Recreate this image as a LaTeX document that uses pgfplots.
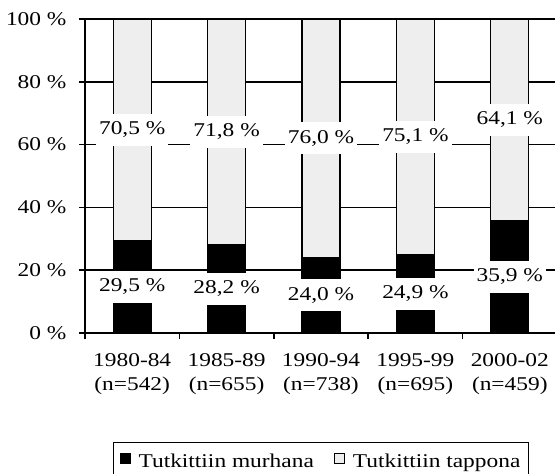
\documentclass[border=0pt]{standalone}
\usepackage{pgfplots}
\usepackage{pgfplotstable}
\pgfplotsset{compat=1.18}
\usepackage{fontspec}
\setmainfont{Liberation Serif}[FakeStretch=1.2]
\newcommand\cf{\fontsize{19.5}{24}\selectfont}
\definecolor{lightgr}{HTML}{EEEEEE}
\pgfplotstableread{
x m t
0 29.5 70.5
1 28.2 71.8
2 24.0 76.0
3 24.9 75.1
4 35.9 64.1
}\data
\begin{document}
\begin{tikzpicture}
\path[use as bounding box] (-85pt,-141pt) rectangle (470pt,333pt);
\pgfplotsset{common/.style={
  scale only axis, width=472pt, height=314pt,
  xmin=-0.5, xmax=4.5, ymin=0, ymax=100,
  at={(0pt,0pt)}, anchor=south west, clip=false}}
\begin{axis}[common,
  ybar stacked, bar width=38pt,
  axis x line=bottom, axis y line=left,
  axis line style={-, line width=1.5pt},
  tick align=outside, major tick length=6pt,
  every tick/.style={black, line width=1.5pt},
  ytick={0,20,40,60,80,100},
  yticklabels={0 \%,20 \%,40 \%,60 \%,80 \%,100 \%},
  ymajorgrids, grid style={black, line width=1.5pt},
  xtick={-0.5,0.5,1.5,2.5,3.5,4.5}, xticklabels={},
  extra x ticks={0,1,2,3,4},
  extra x tick labels={{1980-84\\(n=542)},{1985-89\\(n=655)},{1990-94\\(n=738)},{1995-99\\(n=695)},{2000-02\\(n=459)}},
  extra x tick style={major tick length=0pt},
  tick label style={font=\cf},
  xticklabel style={align=center, yshift=-17pt},
  yticklabel style={xshift=-9pt},
  legend style={at={(0.5,-0.347)}, anchor=north, draw=black, line width=1pt,
    font=\cf, inner xsep=6pt, inner ysep=10pt,
    /tikz/every even column/.append style={column sep=18pt},
    /tikz/every odd column/.append style={column sep=6pt}},
  legend columns=2,
]
\addplot[fill=black, draw=black, line width=1.2pt,
  legend image code/.code={\draw[fill=black,draw=black,line width=1pt] (0pt,-2pt) rectangle (10pt,8pt);}]
  table[x=x,y=m] {\data};
\addlegendentry{Tutkittiin murhana}
\addplot[fill=lightgr, draw=black, line width=1.2pt,
  legend image code/.code={\draw[fill=lightgr,draw=black,line width=1pt] (0pt,-2pt) rectangle (10pt,8pt);}]
  table[x=x,y=t] {\data};
\addlegendentry{Tutkittiin tappona}
\end{axis}
\begin{axis}[common, hide axis,
  nodes near coords={\pgfmathprintnumber[fixed,zerofill,precision=1,use comma,assume math mode=true]{\pgfplotspointmeta}\ \%},
  point meta=explicit,
  nodes near coords style={anchor=center, fill=white, font=\cf, inner xsep=3pt, minimum height=32pt},
]
\addplot[draw=none, mark=none] table[x=x, y expr=\thisrow{m}/2, meta=m] {\data};
\addplot[draw=none, mark=none] table[x=x, y expr=\thisrow{m}+\thisrow{t}/2, meta=t] {\data};
\end{axis}
\end{tikzpicture}
\end{document}
